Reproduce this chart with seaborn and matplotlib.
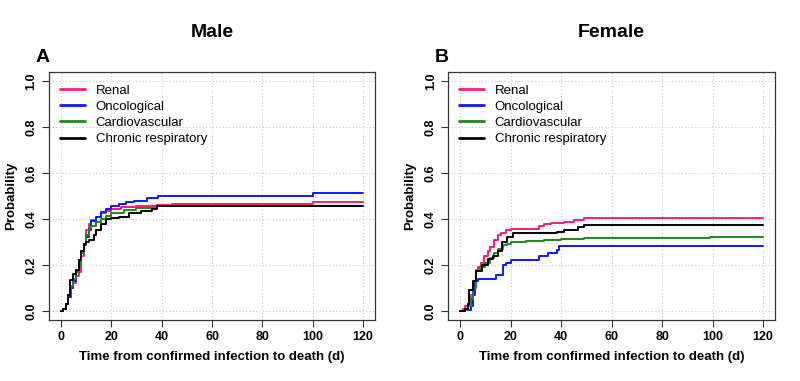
import pandas as pd
import numpy as np
import matplotlib
matplotlib.use("Agg")
import matplotlib.pyplot as plt
import seaborn as sns

# Series names and colours
groups = ["Renal", "Oncological", "Cardiovascular", "Chronic respiratory"]
colors = ["#ff1a7a", "#1414ff", "#1a8a1a", "#000000"]

# Male (A): cumulative probability step curves
male_renal_t = [0, 1, 2, 3, 4, 5, 6, 7, 8, 9, 10, 11, 12, 14, 16, 18, 20, 24, 30, 38, 44, 100, 120]
male_renal_p = [0, 0.01, 0.03, 0.06, 0.10, 0.12, 0.15, 0.17, 0.24, 0.29, 0.35, 0.38, 0.395, 0.41, 0.425, 0.435, 0.442, 0.454, 0.458, 0.461, 0.466, 0.474, 0.474]
male_onco_t = [0, 1, 2, 3, 4, 5, 6, 7, 8, 9, 10, 11, 12, 14, 16, 18, 20, 23, 26, 29, 34, 38.5, 100, 120]
male_onco_p = [0, 0.01, 0.03, 0.06, 0.10, 0.13, 0.17, 0.22, 0.26, 0.285, 0.32, 0.35, 0.39, 0.41, 0.43, 0.445, 0.455, 0.466, 0.475, 0.48, 0.49, 0.502, 0.512, 0.512]
male_cardio_t = [0, 1, 2, 3, 4, 5, 6, 7, 8, 9, 10, 11, 12, 14, 16, 18, 20, 25, 30, 38, 120]
male_cardio_p = [0, 0.01, 0.03, 0.07, 0.11, 0.14, 0.17, 0.20, 0.25, 0.29, 0.33, 0.36, 0.37, 0.385, 0.40, 0.413, 0.425, 0.439, 0.447, 0.458, 0.458]
male_resp_t = [0, 1, 2, 3, 3.7, 5, 6, 7, 8, 9, 10, 11, 13, 14, 16, 18, 20, 23, 27, 32, 36, 38, 120]
male_resp_p = [0, 0.01, 0.03, 0.07, 0.135, 0.16, 0.18, 0.22, 0.26, 0.29, 0.30, 0.31, 0.33, 0.35, 0.38, 0.40, 0.405, 0.41, 0.425, 0.435, 0.445, 0.458, 0.458]

# Female (B)
fem_renal_t = [0, 1, 2, 3, 4.3, 5, 6.3, 7, 8.3, 9.5, 10.9, 12, 13.6, 15, 16.2, 18, 20, 31.3, 33.3, 36, 41.2, 45, 49, 120]
fem_renal_p = [0, 0.007, 0.02, 0.03, 0.07, 0.12, 0.18, 0.19, 0.21, 0.24, 0.26, 0.28, 0.31, 0.33, 0.34, 0.35, 0.356, 0.37, 0.38, 0.384, 0.387, 0.395, 0.403, 0.403]
fem_onco_t = [0, 2, 4.3, 5, 6, 7, 14.2, 16.8, 18, 20, 31.3, 35, 38.5, 39.2, 120]
fem_onco_p = [0, 0.005, 0.02, 0.07, 0.13, 0.14, 0.154, 0.2, 0.21, 0.22, 0.237, 0.25, 0.264, 0.283, 0.283]
fem_cardio_t = [0, 2, 3, 4.3, 5, 6.3, 8, 10, 12, 13.6, 15, 16.8, 18.5, 20, 26, 33.3, 40, 49, 99, 120]
fem_cardio_p = [0, 0.005, 0.02, 0.05, 0.10, 0.175, 0.19, 0.21, 0.23, 0.25, 0.27, 0.285, 0.293, 0.30, 0.303, 0.307, 0.312, 0.318, 0.322, 0.322]
fem_resp_t = [0, 2, 3, 3.7, 5, 6.3, 8.5, 10.9, 13, 15, 16.5, 18.5, 20.8, 38.5, 41, 44.5, 46.5, 49, 120]
fem_resp_p = [0, 0.01, 0.03, 0.09, 0.13, 0.175, 0.2, 0.227, 0.24, 0.26, 0.3, 0.32, 0.337, 0.344, 0.35, 0.354, 0.366, 0.376, 0.376]

panels = [
    ("Male", "A", [(male_renal_t, male_renal_p), (male_onco_t, male_onco_p),
                   (male_cardio_t, male_cardio_p), (male_resp_t, male_resp_p)]),
    ("Female", "B", [(fem_renal_t, fem_renal_p), (fem_onco_t, fem_onco_p),
                     (fem_cardio_t, fem_cardio_p), (fem_resp_t, fem_resp_p)]),
]

sns.set_style("white")
plt.rcParams['font.family'] = ['Liberation Sans', 'DejaVu Sans']
plt.rcParams['text.color'] = 'black'
plt.rcParams['axes.labelcolor'] = 'black'
plt.rcParams['xtick.color'] = 'black'
plt.rcParams['ytick.color'] = 'black'

fig = plt.figure(figsize=(8, 3.81), dpi=100)
positions = [[0.061, 0.160, 0.408, 0.651], [0.560, 0.160, 0.409, 0.651]]

for (title, letter, series), pos in zip(panels, positions):
    ax = fig.add_axes(pos)
    frames = []
    for name, (t, p) in zip(groups, series):
        frames.append(pd.DataFrame({"time": t, "prob": p, "group": name}))
    df = pd.concat(frames, ignore_index=True)
    sns.lineplot(data=df, x="time", y="prob", hue="group", hue_order=groups,
                 palette=colors, estimator=None, drawstyle="steps-post",
                 linewidth=1.4, legend=False, ax=ax)

    ax.set_xlim(-4.8, 124.8)
    ax.set_ylim(-0.04, 1.04)
    ax.set_xticks(np.arange(0, 121, 20))
    ax.set_yticks(np.arange(0, 1.01, 0.2))
    ax.set_yticklabels([f"{v:.1f}" for v in np.arange(0, 1.01, 0.2)],
                       rotation=90, va="center", fontweight="bold", fontsize=9)
    ax.set_xticklabels([str(v) for v in range(0, 121, 20)], fontweight="bold", fontsize=9)
    ax.grid(True, linestyle=(0, (1, 2)), color="#c8c8c8", linewidth=0.8)
    ax.tick_params(axis="both", direction="out", length=5, width=0.8, color="#333333",
                   bottom=True, left=True, pad=3)
    for s in ax.spines.values():
        s.set_color("#333333")
        s.set_linewidth(0.9)

    ax.set_xlabel("Time from confirmed infection to death (d)", fontweight="bold", fontsize=9.5, labelpad=6)
    ax.set_ylabel("Probability", fontweight="bold", fontsize=9.5, labelpad=6)

    bbox = ax.get_position()
    fig.text(bbox.x0 + bbox.width / 2, 0.915, title, ha="center", va="center",
             fontweight="bold", fontsize=14)
    fig.text(bbox.x0 - 0.016, 0.85, letter, ha="left", va="center",
             fontweight="bold", fontsize=14)

    handles = ax.lines[:4]
    leg = ax.legend(handles, groups, loc="upper left", frameon=False, fontsize=9.5,
                    handlelength=1.9, handletextpad=0.8, labelspacing=0.3,
                    borderaxespad=0.2, bbox_to_anchor=(0.01, 0.982))
    for h in leg.get_lines():
        h.set_linewidth(2)

fig.savefig("out.png", dpi=100)
